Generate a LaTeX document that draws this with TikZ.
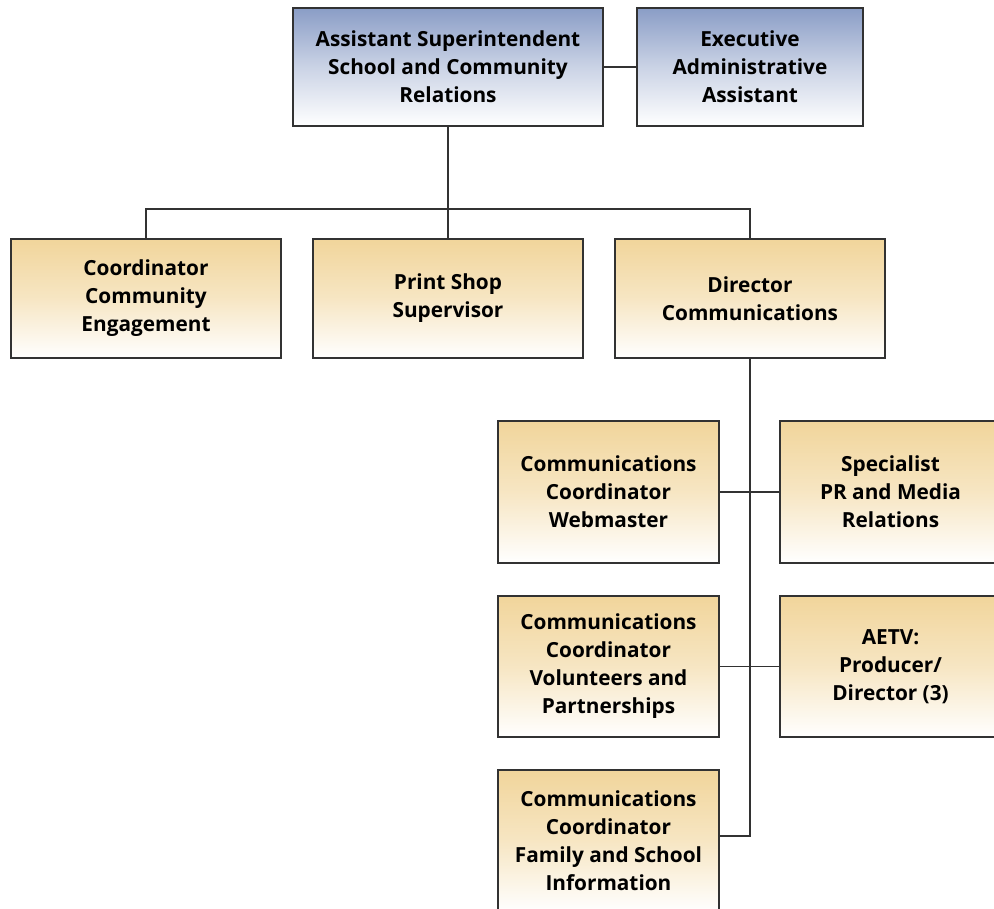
\documentclass[tikz,border=0pt]{standalone}
\usepackage{fontspec}
\setmainfont{Open Sans}
\definecolor{headblue}{RGB}{138,157,198}
\definecolor{stafftan}{RGB}{241,213,155}
\definecolor{rule}{RGB}{50,50,50}

\begin{document}
\begin{tikzpicture}[x=1pt,y=-1pt]
            \tikzset{box/.style={draw=rule, line width=1.3pt, align=center, inner sep=0pt,
                        font=\fontsize{20.8}{28}\selectfont\bfseries}}
            \tikzset{headbox/.style={box, top color=headblue, bottom color=white, middle color=headblue!45, minimum height=118pt}}
            \tikzset{staffbox/.style={box, top color=stafftan, bottom color=white, middle color=stafftan!60}}
            \tikzset{link/.style={draw=rule, line width=1.3pt}}

            \useasboundingbox (0,0) rectangle (994,909);
            \clip (0,0) rectangle (994,909);

            % top level
            \node[headbox, minimum width=310pt] (asst) at (448,67)
                {Assistant Superintendent\\School and Community\\Relations};
            \node[headbox, minimum width=226pt] (exec) at (750,67)
                {Executive\\Administrative\\Assistant};

            % second row
            \node[staffbox, minimum width=270pt, minimum height=119pt] (coord) at (146,298.5)
                {Coordinator\\Community\\Engagement};
            \node[staffbox, minimum width=270pt, minimum height=119pt] (print) at (448,298.5)
                {Print Shop\\Supervisor};
            \node[staffbox, minimum width=270pt, minimum height=119pt] (dir) at (750,298.5)
                {Director\\Communications};

            % communications staff
            \node[staffbox, minimum width=221pt, minimum height=142pt] (web) at (608.5,492)
                {Communications\\Coordinator\\Webmaster};
            \node[staffbox, minimum width=221pt, minimum height=142pt] (spec) at (890.5,492)
                {Specialist\\PR and Media\\Relations};
            \node[staffbox, minimum width=221pt, minimum height=141pt] (vol) at (608.5,666.5)
                {Communications\\Coordinator\\Volunteers and\\Partnerships};
            \node[staffbox, minimum width=221pt, minimum height=141pt] (aetv) at (890.5,666.5)
                {AETV:\\Producer/\\Director (3)};
            \node[staffbox, minimum width=221pt, minimum height=142pt] (family) at (608.5,841)
                {Communications\\Coordinator\\Family and School\\Information};

            % connectors
            \coordinate (split) at (448,209);
            \coordinate (trunk) at (750,836);
            \draw[link] (asst.east) -- (exec.west);
            \draw[link] (asst.south) -- (split);
            \draw[link] (coord.north) |- (split) -| (dir.north);
            \draw[link] (split) -- (print.north);
            \draw[link] (dir.south) -- (trunk) -- (family.east |- trunk);
            \draw[link] (web.east) -- (spec.west);
            \draw[link] (vol.east) -- (aetv.west);
\end{tikzpicture}
\end{document}
